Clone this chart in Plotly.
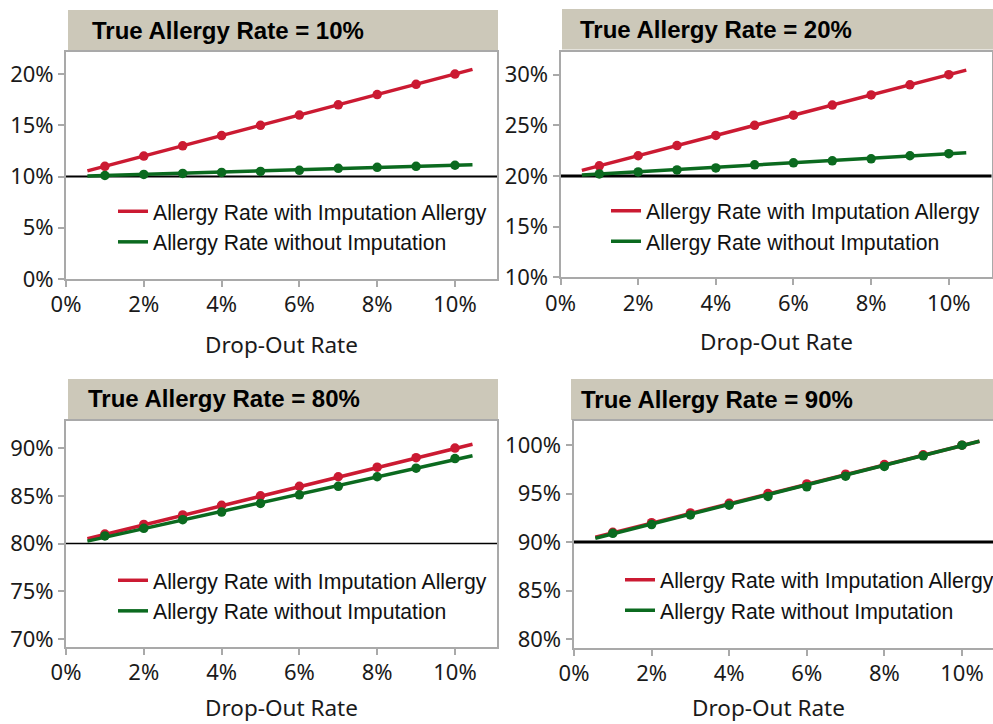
import plotly.graph_objects as go

# Drop-out rates (%) at which the allergy rate was evaluated
drop_out = [1, 2, 3, 4, 5, 6, 7, 8, 9, 10]
# x extent of the fitted lines (%)
fit_x = [0.55, 10.45]

true_rates = [10, 20, 80, 90]
panel_titles = ["True Allergy Rate = 10%", "True Allergy Rate = 20%",
                "True Allergy Rate = 80%", "True Allergy Rate = 90%"]

# Observed allergy rates (%) with imputation (drop-outs counted as allergic)
rate10_with = [11, 12, 13, 14, 15, 16, 17, 18, 19, 20]
rate20_with = [21, 22, 23, 24, 25, 26, 27, 28, 29, 30]
rate80_with = [81, 82, 83, 84, 85, 86, 87, 88, 89, 90]
rate90_with = [91, 92, 93, 94, 95, 96, 97, 98, 99, 100]

# Observed allergy rates (%) without imputation
rate10_without = [10.1, 10.2, 10.3, 10.4, 10.5, 10.6, 10.8, 10.9, 11.0, 11.1]
rate20_without = [20.2, 20.4, 20.6, 20.8, 21.1, 21.3, 21.5, 21.7, 22.0, 22.2]
rate80_without = [80.8, 81.6, 82.5, 83.3, 84.2, 85.1, 86.0, 87.0, 87.9, 88.9]
rate90_without = [90.9, 91.8, 92.8, 93.8, 94.7, 95.7, 96.8, 97.8, 98.9, 100.0]

# Fitted line end values (%)
rate10_with_fit = [10.55, 20.45]
rate20_with_fit = [20.55, 30.45]
rate80_with_fit = [80.5, 90.4]
rate90_with_fit = [90.5, 100.4]
rate10_without_fit = [10.05, 11.15]
rate20_without_fit = [20.1, 22.3]
rate80_without_fit = [80.25, 89.2]
rate90_without_fit = [90.4, 100.4]

# axis ranges (%)
y_ranges = [[0, 22.15], [10, 32.27], [69.16, 92.84], [79.07, 102.49]]
x_ranges = [[0, 11.08], [0, 11.1], [0, 11.08], [-0.013, 10.8]]

with_sets = [rate10_with, rate20_with, rate80_with, rate90_with]
without_sets = [rate10_without, rate20_without, rate80_without, rate90_without]
with_fits = [rate10_with_fit, rate20_with_fit, rate80_with_fit, rate90_with_fit]
without_fits = [rate10_without_fit, rate20_without_fit, rate80_without_fit, rate90_without_fit]

W, H = 993, 724
RED = "#CB1A32"
GREEN = "#0B6A1F"
BAR = "#CCC8B9"
AXIS = "#A9A9A9"
TICK_FONT = dict(family="Noto Sans", size=22, color="#1a1a1a")
LEGEND_FONT = dict(family="Liberation Sans, Arial", size=21.2, color="#111111")
TITLE_FONT = dict(family="Liberation Sans, Arial", size=24, color="#000000")


def px_x(v):
    return v / W


def px_y(v):
    return 1 - v / H


# pixel boxes: plot area (x0, x1, y0, y1), title bar (x0, x1, y0, y1)
plot_boxes = [(66, 497, 52, 279), (560.5, 991.5, 51.7, 277.3),
              (66, 497, 421, 647), (573.5, 993, 421, 648)]
bar_boxes = [(68, 498, 10, 50), (562, 993, 9, 49.5),
             (68, 498, 379, 419), (571, 993, 379, 420)]
title_pos = [(90, 30.5), (578, 29.5), (86, 398.5), (579, 399.5)]
legend_pos = [(113, 191), (606, 190.5), (113, 560), (620, 559.5)]
hline_widths = [2, 3, 1.5, 3]
axis_title_y = [344, 342, 707, 707]

fig = go.Figure()
layout = dict(
    width=W, height=H,
    margin=dict(l=0, r=0, t=0, b=0, autoexpand=False),
    paper_bgcolor="white", plot_bgcolor="white",
    showlegend=True,
)
shapes = []
annotations = []

for i in range(4):
    n = "" if i == 0 else str(i + 1)
    xa, ya = "x" + n, "y" + n
    leg = "legend" + n

    fig.add_trace(go.Scatter(x=fit_x, y=with_fits[i], mode="lines",
                             line=dict(color=RED, width=3.5),
                             name="Allergy Rate with Imputation Allergy",
                             xaxis=xa, yaxis=ya, legend=leg, legendgroup="a" + n))
    fig.add_trace(go.Scatter(x=drop_out, y=with_sets[i], mode="markers",
                             marker=dict(color=RED, size=9.5), showlegend=False,
                             xaxis=xa, yaxis=ya, hoverinfo="x+y"))
    fig.add_trace(go.Scatter(x=fit_x, y=without_fits[i], mode="lines",
                             line=dict(color=GREEN, width=3.5),
                             name="Allergy Rate without Imputation",
                             xaxis=xa, yaxis=ya, legend=leg, legendgroup="b" + n))
    fig.add_trace(go.Scatter(x=drop_out, y=without_sets[i], mode="markers",
                             marker=dict(color=GREEN, size=9.5), showlegend=False,
                             xaxis=xa, yaxis=ya, hoverinfo="x+y"))

    x0, x1, y0, y1 = plot_boxes[i]
    axis_common = dict(showline=True, linecolor=AXIS, linewidth=2, mirror=True,
                       ticks="outside", ticklen=6, tickwidth=2, tickcolor=AXIS,
                       showgrid=False, zeroline=False, tickfont=TICK_FONT,
                       ticksuffix="%", fixedrange=True, automargin=False)
    layout["xaxis" + n] = dict(axis_common, domain=[px_x(x0), min(1, px_x(x1))],
                               range=x_ranges[i], tick0=0, dtick=2,
                               anchor=ya, ticklabelstandoff=-1)
    layout["yaxis" + n] = dict(axis_common, domain=[px_y(y1), px_y(y0)],
                               range=y_ranges[i], tick0=0, dtick=5,
                               anchor=xa, ticklabelstandoff=0)

    # true allergy rate reference line
    shapes.append(dict(type="line", xref=xa + " domain", yref=ya,
                       x0=0, x1=1, y0=true_rates[i], y1=true_rates[i],
                       line=dict(color="black", width=hline_widths[i]), layer="below"))

    # title bar
    bx0, bx1, by0, by1 = bar_boxes[i]
    shapes.append(dict(type="rect", xref="paper", yref="paper",
                       x0=px_x(bx0), x1=px_x(bx1), y0=px_y(by1), y1=px_y(by0),
                       fillcolor=BAR, line=dict(width=0), layer="below"))
    tx, ty = title_pos[i]
    annotations.append(dict(text="<b>" + panel_titles[i] + "</b>", xref="paper", yref="paper",
                            x=px_x(tx), y=px_y(ty), xanchor="left", yanchor="middle",
                            showarrow=False, font=TITLE_FONT))
    annotations.append(dict(text="Drop-Out Rate", xref="paper", yref="paper",
                            x=px_x((x0 + min(x1, 993)) / 2 if i != 3 else 768),
                            y=px_y(axis_title_y[i]), xanchor="center", yanchor="middle",
                            showarrow=False, font=dict(family="Noto Sans", size=22.5, color="#1a1a1a")))

    lx, ly = legend_pos[i]
    layout[leg] = dict(x=px_x(lx), y=px_y(ly), xanchor="left", yanchor="top",
                       xref="paper", yref="paper", bgcolor="rgba(0,0,0,0)",
                       font=LEGEND_FONT, itemwidth=30, tracegroupgap=0,
                       traceorder="normal")

layout["shapes"] = shapes
layout["annotations"] = annotations
fig.update_layout(**layout)

fig.write_html("out.html")
